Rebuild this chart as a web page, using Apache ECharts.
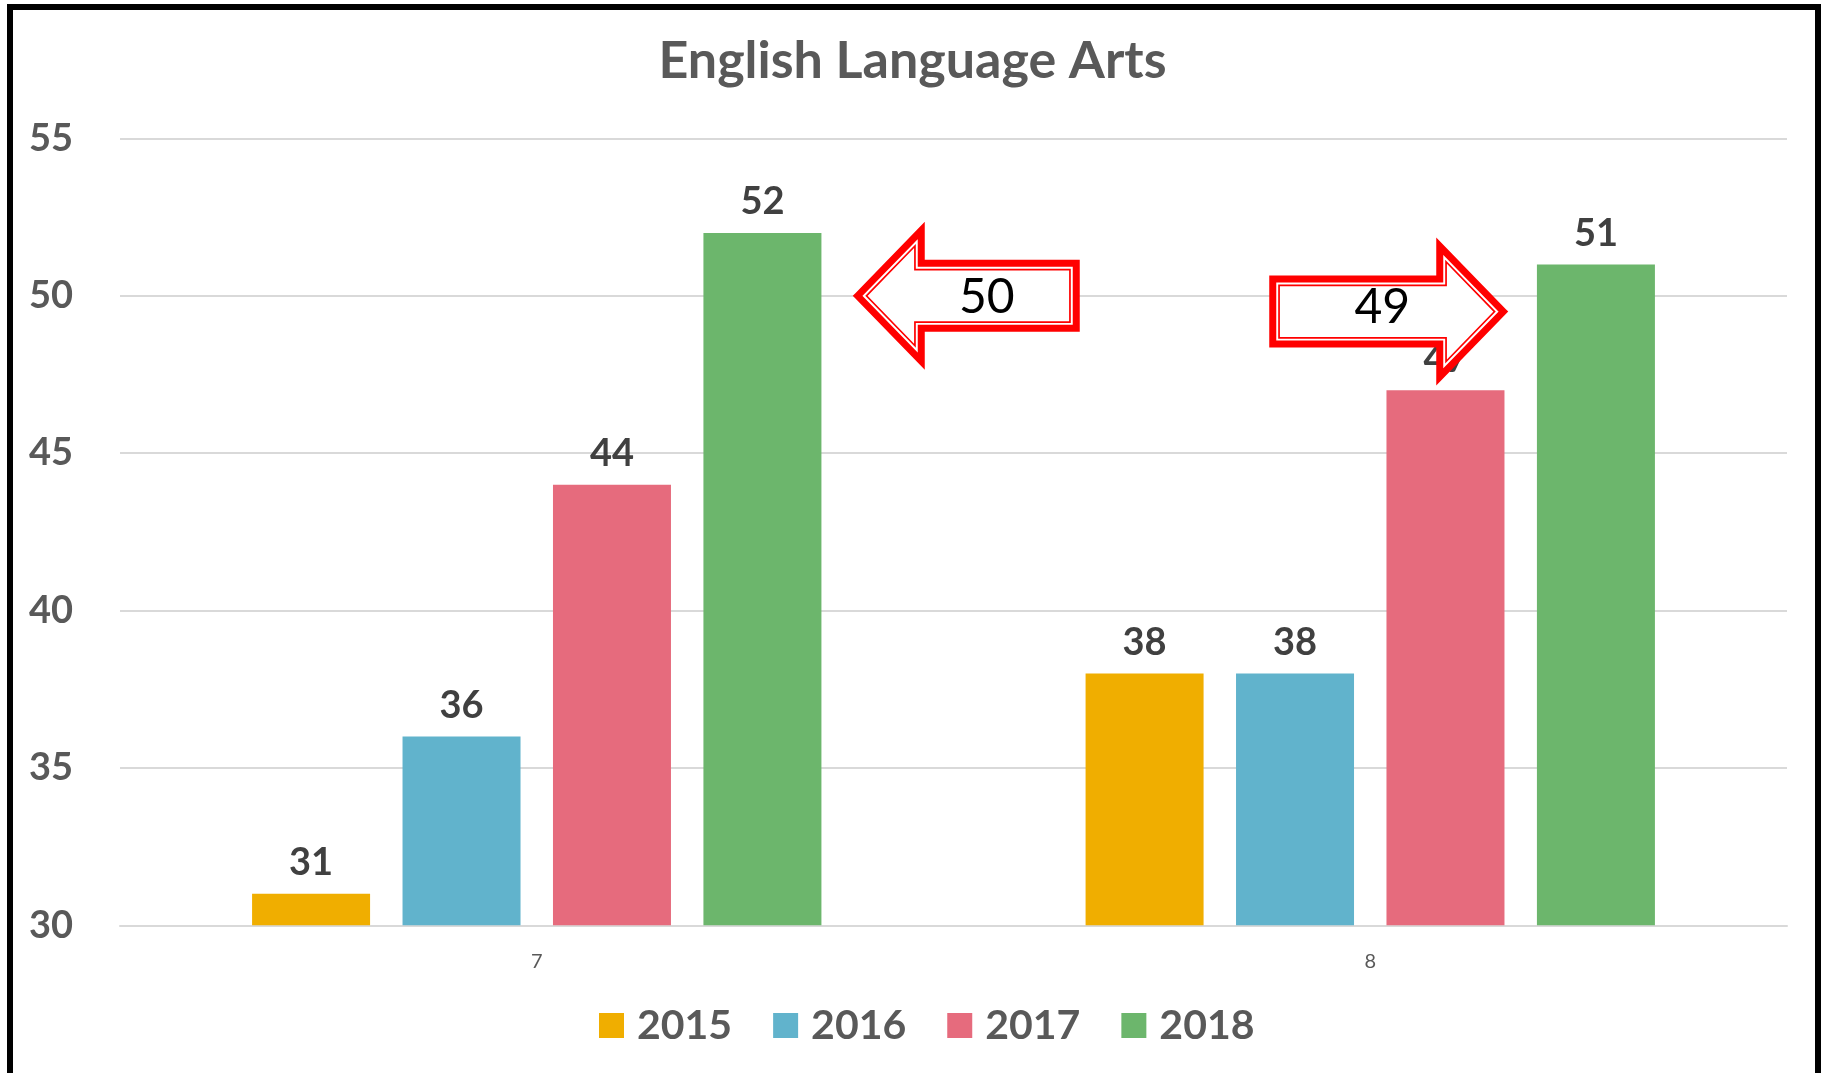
<!DOCTYPE html>
<html>
<head>
<meta charset="utf-8">
<title>English Language Arts</title>
<script src="https://cdn.jsdelivr.net/npm/echarts@6/dist/echarts.min.js"></script>
<style>
  html, body { margin: 0; padding: 0; background: #fff; }
  #chart { width: 1825px; height: 1073px; }
</style>
</head>
<body>
<div id="chart"></div>
<script>
// ===== data =====
const grades = ['7', '8'];
const years = ['2015', '2016', '2017', '2018'];
const scores2015 = [31, 38];
const scores2016 = [36, 38];
const scores2017 = [44, 47];
const scores2018 = [52, 51];
const yTicks = [30, 35, 40, 45, 50, 55];

// callout arrows (text, grade index, level it points at, direction)
const calloutTexts = ['50', '49'];
const calloutGrades = [0, 1];
const calloutLevels = [50, 49.5];
const calloutDirs = ['left', 'right'];

const colors = ['#F0AE00', '#61B3CC', '#E66B7D', '#6CB66C'];
const FONT = 'Lato';

const chart = echarts.init(document.getElementById('chart'));

const seriesData = [scores2015, scores2016, scores2017, scores2018];

const option = {
  animation: false,
  color: colors,
  title: {
    text: 'English Language Arts',
    left: 'center',
    top: 30,
    textStyle: { fontFamily: FONT, fontSize: 52, fontWeight: 'bold', color: '#595959' }
  },
  legend: {
    data: years,
    bottom: 22,
    left: 594,
    itemWidth: 25,
    itemHeight: 25,
    itemGap: 41,
    icon: 'rect',
    textStyle: { fontFamily: FONT, fontSize: 41, fontWeight: 'bold', color: '#595959', padding: [0, 0, 0, 8] }
  },
  grid: { left: 120, right: 38, top: 138.5, bottom: 147.7, containLabel: false },
  xAxis: {
    type: 'category',
    data: grades,
    axisLine: { lineStyle: { color: '#D9D9D9', width: 2 } },
    axisTick: { show: false },
    axisLabel: { fontFamily: FONT, fontSize: 20, color: '#595959', margin: 26 }
  },
  yAxis: {
    type: 'value',
    min: yTicks[0],
    max: yTicks[yTicks.length - 1],
    interval: 5,
    axisLine: { show: false },
    axisTick: { show: false },
    splitLine: { lineStyle: { color: '#D9D9D9', width: 2 } },
    axisLabel: { fontFamily: FONT, fontSize: 38, fontWeight: 'bold', color: '#595959', margin: 47 }
  },
  series: years.map((y, i) => ({
    name: y,
    type: 'bar',
    data: seriesData[i],
    barWidth: 118,
    barGap: '27.5%',
    itemStyle: { color: colors[i] },
    label: {
      show: true,
      position: 'top',
      distance: 12,
      fontFamily: FONT,
      fontSize: 38,
      fontWeight: 'bold',
      color: '#404040'
    }
  }))
};

chart.setOption(option);

// ===== callout arrows =====
function polyArea(pts) {
  let s = 0;
  for (let i = 0; i < pts.length; i++) {
    const a = pts[i], b = pts[(i + 1) % pts.length];
    s += a[0] * b[1] - b[0] * a[1];
  }
  return s / 2;
}

// shrink a polygon inward by d pixels
function insetPoly(pts, d) {
  const n = pts.length;
  const sign = polyArea(pts) > 0 ? 1 : -1;
  const lines = [];
  for (let i = 0; i < n; i++) {
    const a = pts[i], b = pts[(i + 1) % n];
    const dx = b[0] - a[0], dy = b[1] - a[1];
    const len = Math.hypot(dx, dy);
    const nx = sign * -dy / len, ny = sign * dx / len;
    lines.push({ p: [a[0] + nx * d, a[1] + ny * d], v: [dx, dy] });
  }
  const out = [];
  for (let i = 0; i < n; i++) {
    const l1 = lines[(i - 1 + n) % n], l2 = lines[i];
    const cross = l1.v[0] * l2.v[1] - l1.v[1] * l2.v[0];
    const wx = l2.p[0] - l1.p[0], wy = l2.p[1] - l1.p[1];
    const t = (wx * l2.v[1] - wy * l2.v[0]) / cross;
    out.push([l1.p[0] + l1.v[0] * t, l1.p[1] + l1.v[1] * t]);
  }
  return out;
}

function arrowPoints(tx, ty, dir, len) {
  const hl = 72, hh = 74, bh = 36;
  const s = dir === 'left' ? 1 : -1;
  return [
    [tx, ty],
    [tx + s * hl, ty - hh],
    [tx + s * hl, ty - bh],
    [tx + s * len, ty - bh],
    [tx + s * len, ty + bh],
    [tx + s * hl, ty + bh],
    [tx + s * hl, ty + hh]
  ];
}

const graphics = [{
  type: 'rect',
  z: 0,
  shape: { x: 10, y: 7, width: 1808, height: 1100 },
  style: { fill: null, stroke: '#000', lineWidth: 6 }
}];

calloutTexts.forEach((txt, i) => {
  const c = chart.convertToPixel({ gridIndex: 0 }, [calloutGrades[i], calloutLevels[i]]);
  const dir = calloutDirs[i];
  // tip sits just past the group for the left arrow, on the 2017 bar edge for the right one
  const tx = dir === 'left' ? c[0] + 316 : c[0] + 138;
  const ty = c[1];
  const len = dir === 'left' ? 227 : 239;
  const outer = arrowPoints(tx, ty, dir, len);
  graphics.push({
    type: 'polygon', z: 100,
    shape: { points: insetPoly(outer, 3.5) },
    style: { fill: '#fff', stroke: '#FF0000', lineWidth: 7, lineJoin: 'miter', miterLimit: 10 }
  });
  graphics.push({
    type: 'polygon', z: 101,
    shape: { points: insetPoly(outer, 9.8) },
    style: { fill: null, stroke: '#FF0000', lineWidth: 1.7, lineJoin: 'miter', miterLimit: 10 }
  });
  graphics.push({
    type: 'text', z: 102,
    x: dir === 'left' ? tx + 134 : tx - 126,
    y: dir === 'left' ? ty + 2 : ty - 4,
    style: {
      text: txt,
      fontFamily: FONT,
      fontSize: 48,
      fill: '#000',
      align: 'center',
      verticalAlign: 'middle'
    }
  });
});

chart.setOption({ graphic: graphics });
</script>
</body>
</html>
